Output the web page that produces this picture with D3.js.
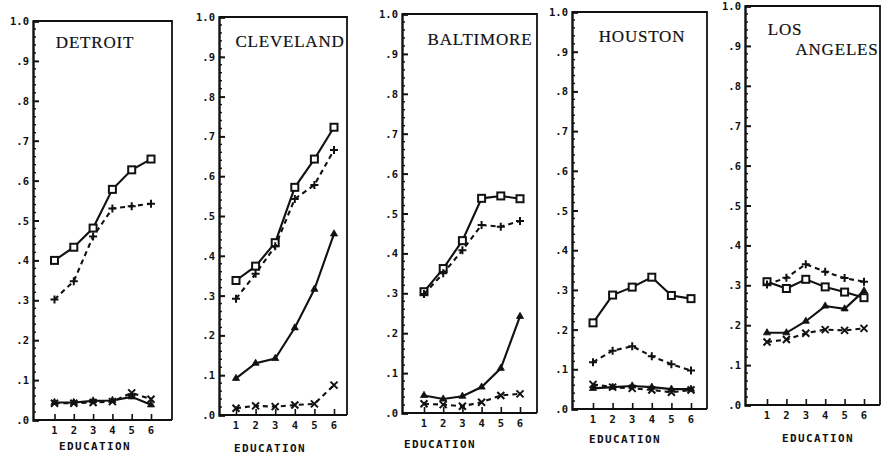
<!DOCTYPE html>
<html>
<head>
<meta charset="utf-8">
<script src="https://cdn.jsdelivr.net/npm/d3@7"></script>
<style>
  html, body { margin: 0; padding: 0; background: #fff; }
  svg { display: block; }
</style>
</head>
<body>
<svg id="chart" width="882" height="466"></svg>
<script>
// ---------------- DATA ----------------
const education = [1, 2, 3, 4, 5, 6];
const cities = ["DETROIT", "CLEVELAND", "BALTIMORE", "HOUSTON", "LOS ANGELES"];
const yTickValues = [0, 0.1, 0.2, 0.3, 0.4, 0.5, 0.6, 0.7, 0.8, 0.9, 1.0];
const yTickLabels = [".0", ".1", ".2", ".3", ".4", ".5", ".6", ".7", ".8", ".9", "1.0"];
const xTickLabels = ["1", "2", "3", "4", "5", "6"];
const axisTitle = "EDUCATION";

// series, one row per city (Detroit, Cleveland, Baltimore, Houston, Los Angeles)
const squareSeries = [
  [0.400, 0.433, 0.481, 0.578, 0.627, 0.654],
  [0.338, 0.374, 0.433, 0.572, 0.643, 0.723],
  [0.304, 0.362, 0.432, 0.538, 0.544, 0.537],
  [0.217, 0.287, 0.307, 0.332, 0.286, 0.278],
  [0.309, 0.292, 0.315, 0.296, 0.283, 0.269]
];
const plusSeries = [
  [0.302, 0.348, 0.460, 0.530, 0.536, 0.542],
  [0.292, 0.355, 0.424, 0.543, 0.578, 0.666],
  [0.298, 0.350, 0.408, 0.471, 0.467, 0.481],
  [0.118, 0.147, 0.158, 0.133, 0.113, 0.097],
  [0.302, 0.319, 0.353, 0.334, 0.318, 0.309]
];
const triangleSeries = [
  [0.044, 0.044, 0.048, 0.049, 0.058, 0.038],
  [0.092, 0.130, 0.142, 0.219, 0.316, 0.455],
  [0.044, 0.035, 0.042, 0.065, 0.112, 0.242],
  [0.052, 0.055, 0.058, 0.055, 0.050, 0.050],
  [0.181, 0.181, 0.210, 0.248, 0.241, 0.286]
];
const crossSeries = [
  [0.042, 0.042, 0.044, 0.046, 0.068, 0.052],
  [0.017, 0.023, 0.021, 0.025, 0.028, 0.075],
  [0.023, 0.021, 0.017, 0.027, 0.044, 0.048],
  [0.062, 0.055, 0.052, 0.048, 0.042, 0.048],
  [0.158, 0.164, 0.180, 0.189, 0.187, 0.192]
];

// ---------------- LAYOUT (scanned panels are slightly skewed) ----------------
const panels = [
  { axisX: 33,  right: 172, top: 21, bottom: 420, x1: 54.5, x6: 151, title: [{t:"DETROIT", x:95, y:48}], eduX: 95,  eduY: 450 },
  { axisX: 219, right: 347, top: 17, bottom: 415, x1: 236,  x6: 334, title: [{t:"CLEVELAND", x:290, y:47}], eduX: 270, eduY: 452 },
  { axisX: 402, right: 537, top: 14, bottom: 413, x1: 424,  x6: 520, title: [{t:"BALTIMORE", x:480, y:45}], eduX: 440, eduY: 448 },
  { axisX: 572, right: 707, top: 12, bottom: 409, x1: 593,  x6: 691, title: [{t:"HOUSTON", x:642, y:42}], eduX: 625, eduY: 443 },
  { axisX: 745, right: 880, top: 6,  bottom: 405, x1: 767,  x6: 864, title: [{t:"LOS", x:785, y:35}, {t:"ANGELES", x:837, y:55}], eduX: 818, eduY: 442 }
];

const svg = d3.select("#chart");
const ink = "#111";
const seriesDefs = [
  { data: squareSeries, dash: null, marker: "square" },
  { data: plusSeries, dash: "5,4", marker: "plus" },
  { data: triangleSeries, dash: null, marker: "triangle" },
  { data: crossSeries, dash: "5,4", marker: "cross" }
];

panels.forEach((p, ci) => {
  const g = svg.append("g").attr("class", "panel").attr("data-city", cities[ci]);
  const x = d3.scaleLinear().domain([1, 6]).range([p.x1, p.x6]);
  const y = d3.scaleLinear().domain([0, 1]).range([p.bottom, p.top]);

  // frame (top and right)
  g.append("path")
    .attr("d", `M${p.axisX},${y(1)} L${p.right},${y(1)} L${p.right},${y(0)}`)
    .attr("fill", "none").attr("stroke", ink).attr("stroke-width", 1.8);

  // y axis with inward ticks
  const yAxis = d3.axisRight(y).tickValues(yTickValues).tickSize(6)
    .tickFormat("");
  const ya = g.append("g").attr("transform", `translate(${p.axisX},0)`).call(yAxis);
  ya.select(".domain").attr("stroke", ink).attr("stroke-width", 2.4);
  ya.selectAll(".tick line").attr("stroke", ink).attr("stroke-width", 2);
  // minor ticks
  const minor = d3.range(0, 1.0001, 0.02).filter(v => Math.abs(v * 10 - Math.round(v * 10)) > 1e-6);
  g.selectAll(".minor").data(minor).join("line")
    .attr("x1", p.axisX).attr("x2", p.axisX + 3)
    .attr("y1", d => y(d)).attr("y2", d => y(d))
    .attr("stroke", ink).attr("stroke-width", 1.4);
  // y labels
  g.selectAll(".ylab").data(yTickValues).join("text")
    .attr("x", p.axisX - 4).attr("y", d => y(d) + 4)
    .attr("text-anchor", "end")
    .attr("font-family", "DejaVu Sans Mono, monospace")
    .attr("font-weight", "bold").attr("font-size", 10.5).attr("fill", ink)
    .text((d, i) => yTickLabels[i]);

  // x axis
  const xAxis = d3.axisTop(x).tickValues(education).tickSize(6).tickFormat("");
  const xa = g.append("g").attr("transform", `translate(0,${y(0)})`).call(xAxis);
  xa.select(".domain").remove();
  xa.selectAll(".tick line").attr("stroke", ink).attr("stroke-width", 1.6);
  g.append("line").attr("x1", p.axisX).attr("x2", p.right)
    .attr("y1", y(0)).attr("y2", y(0)).attr("stroke", ink).attr("stroke-width", 2.2);
  g.selectAll(".xlab").data(education).join("text")
    .attr("x", d => x(d)).attr("y", y(0) + 14)
    .attr("text-anchor", "middle")
    .attr("font-family", "DejaVu Sans Mono, monospace")
    .attr("font-weight", "bold").attr("font-size", 10.5).attr("fill", ink)
    .text((d, i) => xTickLabels[i]);

  // axis title
  g.append("text").attr("x", p.eduX).attr("y", p.eduY)
    .attr("text-anchor", "middle")
    .attr("font-family", "DejaVu Sans Mono, monospace")
    .attr("font-weight", "bold").attr("font-size", 11)
    .attr("letter-spacing", 1.4).attr("fill", ink)
    .text(axisTitle);

  // city title
  p.title.forEach(tt => {
    g.append("text").attr("x", tt.x).attr("y", tt.y)
      .attr("text-anchor", "middle")
      .attr("font-family", "Liberation Serif, DejaVu Serif, serif")
      .attr("font-size", 17).attr("letter-spacing", 0.8).attr("fill", ink)
      .attr("stroke", ink).attr("stroke-width", 0.2)
      .text(tt.t);
  });

  // series
  const line = d3.line().x((d, i) => x(education[i])).y(d => y(d));
  seriesDefs.forEach(s => {
    const vals = s.data[ci];
    g.append("path").datum(vals)
      .attr("d", line)
      .attr("fill", "none").attr("stroke", ink).attr("stroke-width", 2.1)
      .attr("stroke-dasharray", s.dash);
    const mk = g.selectAll(null).data(vals).join("g")
      .attr("transform", (d, i) => `translate(${x(education[i])},${y(d)})`);
    if (s.marker === "square") {
      mk.append("rect").attr("x", -3.5).attr("y", -3.5).attr("width", 7).attr("height", 7)
        .attr("fill", "#fff").attr("stroke", ink).attr("stroke-width", 2);
    } else if (s.marker === "plus") {
      mk.append("path").attr("d", "M-4,0H4M0,-4V4")
        .attr("stroke", ink).attr("stroke-width", 2);
    } else if (s.marker === "triangle") {
      mk.append("path").attr("d", d3.symbol(d3.symbolTriangle, 22)())
        .attr("fill", ink).attr("stroke", ink).attr("stroke-width", 0.8);
    } else {
      mk.append("path").attr("d", "M-3.5,-3.5L3.5,3.5M-3.5,3.5L3.5,-3.5")
        .attr("stroke", ink).attr("stroke-width", 2);
    }
  });
});
</script>
</body>
</html>
